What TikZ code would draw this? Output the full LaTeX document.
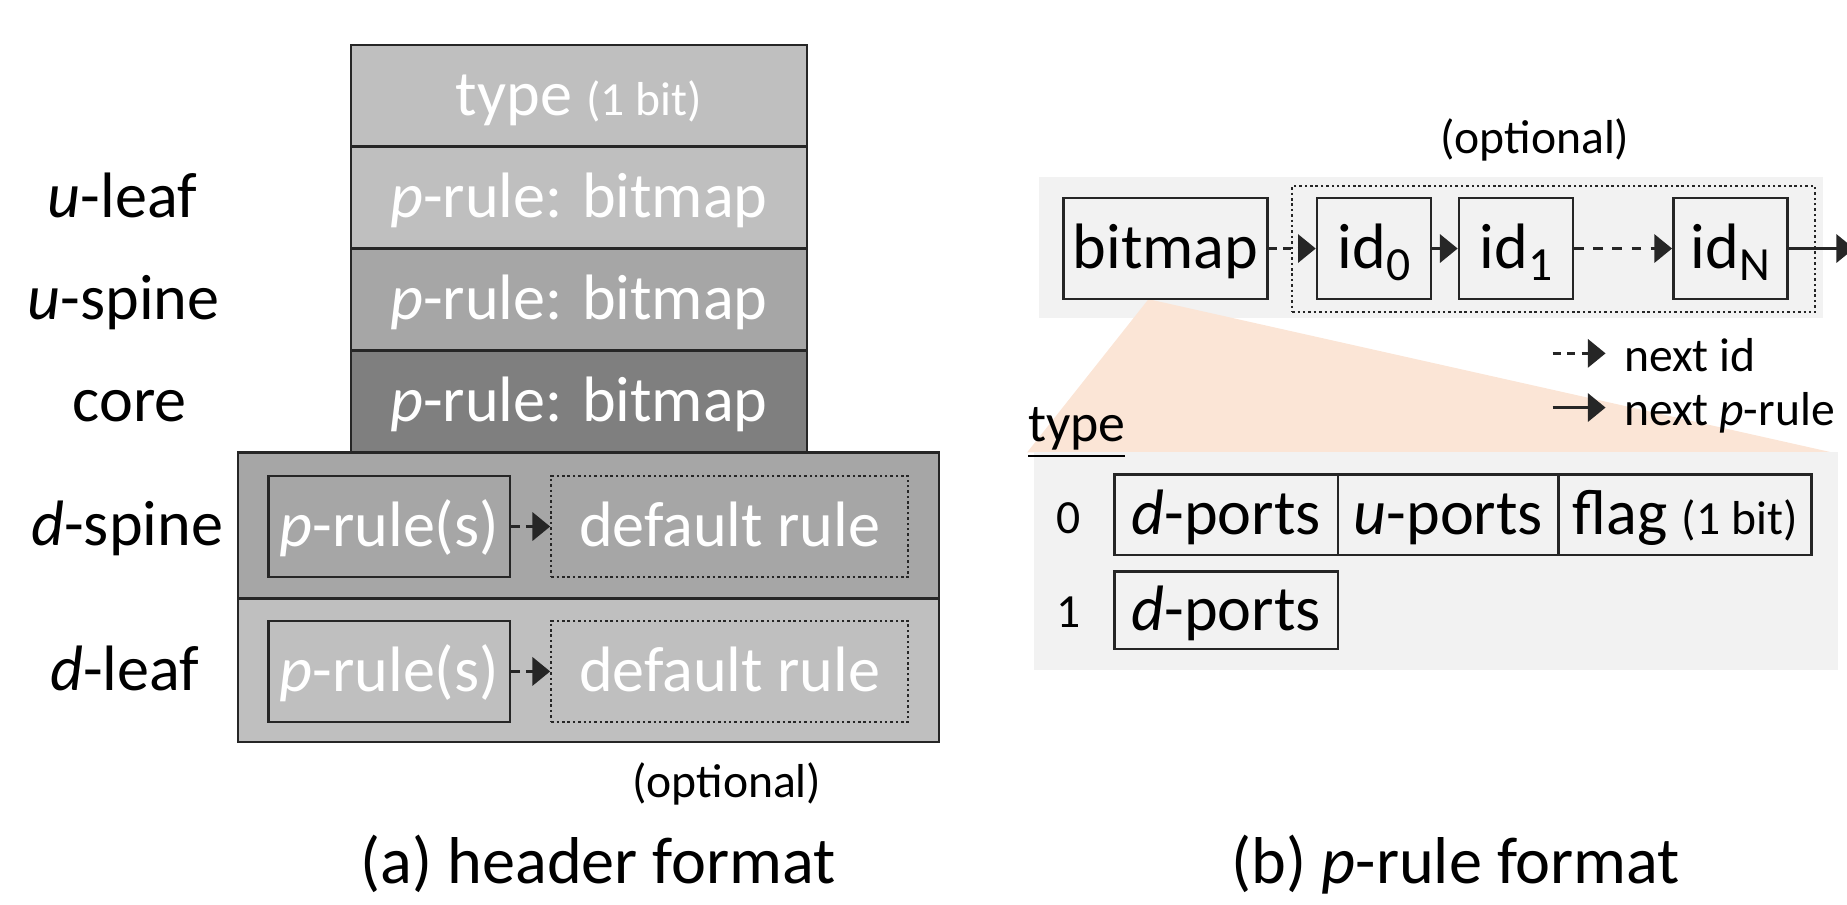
\documentclass[tikz,border=0pt]{standalone}
\usepackage{fontspec}
\setmainfont{Carlito}
\usetikzlibrary{arrows.meta}

\definecolor{lgray}{HTML}{BFBFBF}
\definecolor{mgray}{HTML}{A6A6A6}
\definecolor{dgray}{HTML}{7F7F7F}
\definecolor{bggray}{HTML}{F2F2F2}
\definecolor{peach}{HTML}{FBE5D6}
\definecolor{edgec}{HTML}{262626}

\newcommand{\fldfont}{\fontsize{15.5}{18}\selectfont}
\newcommand{\smlfont}{\fontsize{11.5}{14}\selectfont}
\newcommand{\capfont}{\fontsize{16}{19}\selectfont}
\newcommand{\idsub}[1]{\raisebox{-3pt}{\smlfont #1}}

\begin{document}
\begin{tikzpicture}[
  txt/.style={inner sep=0pt, text height=4.3mm, text depth=0.9mm},
  field/.style={txt, draw=edgec, line width=0.6pt, font=\fldfont},
  hdr/.style={field, text=white, minimum width=3.87cm, minimum height=0.865cm},
  dotbox/.style={txt, draw=edgec, line width=0.55pt, dash pattern=on 0.6pt off 0.7pt, font=\fldfont},
  lbl/.style={txt, font=\fldfont},
  dasharrow/.style={draw=edgec, line width=0.6pt, dash pattern=on 2pt off 1.5pt, -{Triangle[length=1.5mm,width=2.4mm]}},
  solidarrow/.style={draw=edgec, line width=0.6pt, -{Triangle[length=1.5mm,width=2.4mm]}},
]
\useasboundingbox (0,0) rectangle (15.68,7.68);

% (a) header format
\node[hdr, fill=lgray] (type) at (4.915,6.8675) {type {\smlfont (1 bit)}};
\node[hdr, fill=lgray] (ubmp) at (4.915,6.0025) {\textit{p}-rule: bitmap};
\node[hdr, fill=mgray] (sbmp) at (4.915,5.1375) {\textit{p}-rule: bitmap};
\node[hdr, fill=dgray] (cbmp) at (4.915,4.2725) {\textit{p}-rule: bitmap};

\node[field, fill=mgray, minimum width=5.95cm, minimum height=1.24cm] (dspine) at (4.995,3.22) {};
\node[field, fill=lgray, minimum width=5.95cm, minimum height=1.22cm] (dleaf) at (4.995,1.99) {};

\node[field, text=white, minimum width=2.05cm, minimum height=0.86cm] (sprs) at (3.305,3.21) {\textit{p}-rule(s)};
\node[dotbox, text=white, minimum width=3.03cm, minimum height=0.86cm] (sdef) at (6.195,3.21) {default rule};
\draw[dasharrow] (sprs) -- (sdef);

\node[field, text=white, minimum width=2.05cm, minimum height=0.86cm] (lprs) at (3.305,1.98) {\textit{p}-rule(s)};
\node[dotbox, text=white, minimum width=3.03cm, minimum height=0.86cm] (ldef) at (6.195,1.98) {default rule};
\draw[dasharrow] (lprs) -- (ldef);

\node[lbl] (luleaf) at (1.04,6.00) {\textit{u}-leaf};
\node[lbl] (luspine) at (1.05,5.14) {\textit{u}-spine};
\node[lbl] (lcore) at (1.10,4.27) {core};
\node[lbl] (ldspine) at (1.08,3.22) {\textit{d}-spine};
\node[lbl] (ldleaf) at (1.06,1.99) {\textit{d}-leaf};

\node[txt, font=\smlfont] (optl) at (6.17,1.08) {(optional)};
\node[txt, font=\capfont] (capa) at (5.08,0.35) {(a) header format};

% (b) p-rule format
\fill[bggray] (8.82,4.98) rectangle (15.48,6.18);
\fill[peach] (9.75,5.14) -- (8.72,3.84) -- (15.55,3.84) -- cycle;
\fill[bggray] (8.78,1.99) rectangle (15.60,3.84);

\node[dotbox, minimum width=4.44cm, minimum height=1.07cm] (opt) at (13.19,5.565) {};
\node[field, minimum width=1.73cm, minimum height=0.86cm] (bitmap) at (9.895,5.57) {bitmap};
\node[field, minimum width=0.97cm, minimum height=0.86cm] (id0) at (11.665,5.57) {id\idsub{0}};
\node[field, minimum width=0.97cm, minimum height=0.86cm] (id1) at (12.87,5.57) {id\idsub{1}};
\node[field, minimum width=0.97cm, minimum height=0.86cm] (idN) at (14.69,5.57) {id\idsub{N}};
\coordinate (nxt) at (15.74,5.57);
\draw[dasharrow] (bitmap) -- (id0);
\draw[solidarrow] (id0) -- (id1);
\draw[dasharrow, dash pattern=on 2.4pt off 2.2pt] (id1) -- (idN);
\draw[solidarrow] (idN) -- (nxt);
\node[txt, font=\smlfont] (optr) at (13.03,6.55) {(optional)};

\coordinate (lgd1) at (13.18,4.68);
\node[txt, font=\smlfont, anchor=west, inner xsep=1.5mm] (nextid) at (13.63,4.70) {next id};
\draw[dasharrow] (lgd1) -- (lgd1 -| nextid.west);
\coordinate (lgd2) at (13.18,4.22);
\node[txt, font=\smlfont, anchor=west, inner xsep=1.5mm] (nextp) at (13.63,4.24) {next \textit{p}-rule};
\draw[solidarrow] (lgd2) -- (lgd2 -| nextp.west);

\node[txt, font=\fontsize{13}{15}\selectfont, anchor=west] (typel) at (8.72,4.10) {\underline{type}};

\node[txt, font=\smlfont] (t0) at (9.07,3.32) {0};
\node[field, minimum width=1.90cm, minimum height=0.68cm] (dp0) at (10.41,3.31) {\textit{d}-ports};
\node[field, minimum width=1.87cm, minimum height=0.68cm] (up0) at (12.295,3.31) {\textit{u}-ports};
\node[field, minimum width=2.15cm, minimum height=0.68cm] (flag) at (14.305,3.31) {flag {\smlfont (1 bit)}};

\node[txt, font=\smlfont] (t1) at (9.07,2.52) {1};
\node[field, minimum width=1.90cm, minimum height=0.66cm] (dp1) at (10.41,2.50) {\textit{d}-ports};

\node[txt, font=\capfont] (capb) at (12.36,0.35) {(b) \textit{p}-rule format};
\end{tikzpicture}
\end{document}
